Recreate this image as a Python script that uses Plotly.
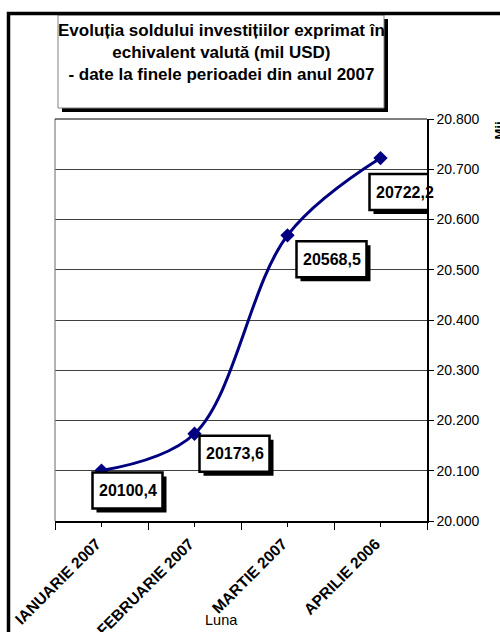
import plotly.graph_objects as go

months = ["IANUARIE 2007", "FEBRUARIE 2007", "MARTIE 2007", "APRILIE 2006"]
values = [20100.4, 20173.6, 20568.5, 20722.2]
y_ticks = [20000, 20100, 20200, 20300, 20400, 20500, 20600, 20700, 20800]
title_lines = ["Evoluția soldului investițiilor exprimat în",
               "echivalent valută (mil USD)",
               "- date la finele perioadei din anul 2007"]

W, H = 500, 632
L, R, T, B = 55, 427, 119, 521
FONT = "Liberation Sans, Arial, sans-serif"

def px2x(px):
    return (px - L) / (R - L)

def px2y(py):
    return (B - py) / (B - T)

xs = list(range(len(months)))

fig = go.Figure()
fig.add_trace(go.Scatter(
    x=xs, y=values, mode="lines+markers",
    line=dict(color="#000080", width=3, shape="spline", smoothing=1.0),
    marker=dict(symbol="diamond", size=11, color="#000080"),
    hoverinfo="skip", showlegend=False,
))

# label box centre offsets (pixels, +y = up) relative to each point
offsets = [(26, -20), (40, -20), (44, -24), (24, -34)]
BW, BH = 70, 36
annotations = []
shapes = []
for i, (v, (dx, dy)) in enumerate(zip(values, offsets)):
    shapes.append(dict(type="rect", xref="x", yref="y",
                       xsizemode="pixel", ysizemode="pixel",
                       xanchor=xs[i], yanchor=v,
                       x0=dx - BW / 2 + 4, x1=dx + BW / 2 + 4,
                       y0=dy - BH / 2 - 4, y1=dy + BH / 2 - 4,
                       fillcolor="black", line=dict(width=0), layer="above"))
    shapes.append(dict(type="rect", xref="x", yref="y",
                       xsizemode="pixel", ysizemode="pixel",
                       xanchor=xs[i], yanchor=v,
                       x0=dx - BW / 2, x1=dx + BW / 2,
                       y0=dy - BH / 2, y1=dy + BH / 2,
                       fillcolor="white", line=dict(color="black", width=2.5),
                       layer="above"))
    txt = f"<b>{v:.1f}</b>".replace(".", ",")
    annotations.append(dict(x=xs[i], y=v, xref="x", yref="y", showarrow=False,
                            text=txt, xshift=dx, yshift=dy,
                            font=dict(family=FONT, size=16, color="black"),
                            xanchor="center", yanchor="middle"))

annotations.append(dict(
    x=px2x(221), y=px2y(53), xref="paper", yref="paper", showarrow=False,
    text="<br>".join(f"<b>{t}</b>" for t in title_lines),
    font=dict(family=FONT, size=17, color="black"), align="center",
    xanchor="center", yanchor="middle"))

annotations.append(dict(
    x=px2x(221), y=px2y(620), xref="paper", yref="paper", showarrow=False,
    text="Luna", font=dict(family=FONT, size=14.5, color="black"),
    xanchor="center", yanchor="middle"))

annotations.append(dict(
    x=px2x(489), y=px2y(131), xref="paper", yref="paper", showarrow=False,
    text="<b>Mii</b>", textangle=-90, font=dict(family=FONT, size=13, color="black"),
    xanchor="left", yanchor="middle"))

shapes += [
    dict(type="rect", xref="paper", yref="paper",
         x0=px2x(62), x1=px2x(388), y0=px2y(112), y1=px2y(19),
         fillcolor="black", line=dict(width=0), layer="above"),
    dict(type="rect", xref="paper", yref="paper",
         x0=px2x(58), x1=px2x(384), y0=px2y(108), y1=px2y(15),
         fillcolor="white", line=dict(color="#808080", width=1), layer="above"),
    dict(type="path", xref="paper", yref="paper",
         path=f"M {px2x(8.5)},{px2y(700)} L {px2x(8.5)},{px2y(13.5)} L {px2x(600)},{px2y(13.5)}",
         line=dict(color="black", width=3.5)),
    dict(type="line", xref="paper", yref="paper", x0=0, x1=0, y0=0, y1=1,
         line=dict(color="#808080", width=1.2)),
    dict(type="line", xref="paper", yref="paper", x0=0, x1=1, y0=1, y1=1,
         line=dict(color="black", width=1.2)),
]

fig.update_layout(
    width=W, height=H,
    margin=dict(l=L, r=W - R, t=T, b=H - B, pad=0, autoexpand=False),
    paper_bgcolor="white", plot_bgcolor="white",
    separators=",.",
    font=dict(family=FONT, color="black"),
    annotations=annotations, shapes=shapes,
    showlegend=False,
)

fig.update_xaxes(
    range=[-0.5, len(months) - 0.5], automargin=False,
    tickmode="array", tickvals=xs,
    ticktext=[f"<b>{m}</b>" for m in months],
    tickangle=-45, tickfont=dict(family=FONT, size=15.5, color="black"),
    ticklabelshift=-5, ticklabelstandoff=2,
    ticks="outside", ticklen=4, tickcolor="black", tickwidth=1,
    minor=dict(tickmode="linear", tick0=-0.5, dtick=1, ticks="outside",
               ticklen=7, tickcolor="black", tickwidth=1, showgrid=False),
    showline=True, linecolor="black", linewidth=1.5,
    showgrid=False, zeroline=False, fixedrange=True,
)

fig.update_yaxes(
    range=[y_ticks[0], y_ticks[-1]], side="right", automargin=False,
    tickmode="array", tickvals=y_ticks, tickformat=",.0f",
    tickfont=dict(family=FONT, size=14, color="black"),
    ticks="outside", ticklen=5, tickcolor="black", tickwidth=1,
    showline=True, linecolor="black", linewidth=1.5,
    showgrid=True, gridcolor="#404040", gridwidth=1,
    zeroline=False, fixedrange=True,
)

fig.write_html("out.html", config={"displayModeBar": False},
               post_script="document.body.style.margin='0px';document.body.style.overflow='hidden';")
